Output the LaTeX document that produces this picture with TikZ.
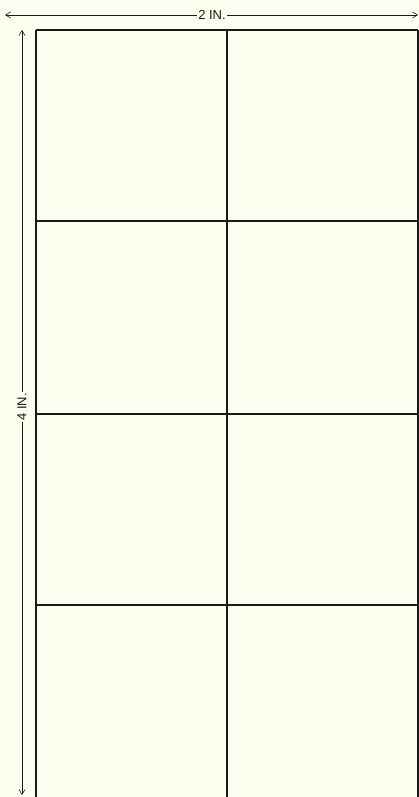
\documentclass[tikz,border=0pt]{standalone}
\usepackage{fontspec}
\setmainfont{Liberation Sans}
\usetikzlibrary{arrows.meta}
\definecolor{paper}{HTML}{FEFEF0}
\definecolor{ink}{HTML}{1A1A1A}
\tikzset{
  gridline/.style={draw=ink, line width=1.3pt},
  dimline/.style={draw=ink, line width=0.6pt, -{Straight Barb[length=5pt,width=6pt]}},
  dimlabel/.style={font=\fontsize{13}{15}\selectfont, text=ink, fill=paper, inner sep=1.5pt},
}
\begin{document}
\begin{tikzpicture}[x=1pt,y=-1pt]
\fill[paper] (0,0) rectangle (419,797);
\useasboundingbox (0,0) rectangle (419,797);
% grid corners
\coordinate (tl) at (36,30);
\coordinate (tr) at (418,30);
\coordinate (bl) at (36,797);
\coordinate (br) at (418,797);
\coordinate (tm) at (227,30);
\coordinate (bm) at (227,797);
\draw[gridline] (tl) -- (bl);
\draw[gridline] (tr) -- (br);
\draw[gridline] (tm) -- (bm);
\draw[gridline] (tl) -- (tr);
\foreach \y/\n in {221/a,414/b,605/c}{
  \coordinate (l\n) at (36,\y);
  \coordinate (r\n) at (418,\y);
  \draw[gridline] (l\n) -- (r\n);
}
% horizontal dimension
\coordinate (hl) at (5,15);
\coordinate (hr) at (418,15);
\node[dimlabel] (hlab) at (212,15) {2 IN.};
\draw[dimline] (hlab.west) -- (hl);
\draw[dimline] (hlab.east) -- (hr);
% vertical dimension
\coordinate (vt) at (22,30);
\coordinate (vb) at (22,795);
\node[dimlabel, rotate=90] (vlab) at (22,407) {4 IN.};
\draw[dimline] (vlab.east) -- (vt);
\draw[dimline] (vlab.west) -- (vb);
\end{tikzpicture}
\end{document}
